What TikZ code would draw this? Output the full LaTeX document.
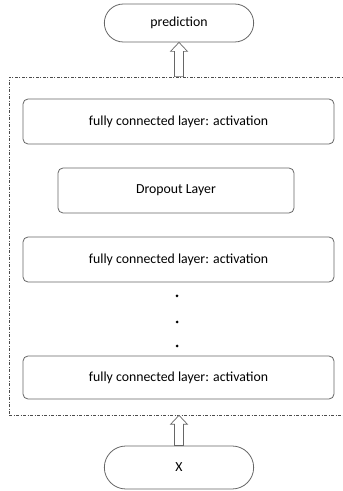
\documentclass[tikz,border=0pt]{standalone}
\usepackage{fontspec}
\setmainfont{Carlito}
\usepackage{tikz}
\usetikzlibrary{shapes}
\usetikzlibrary{calc}
\tikzstyle{layer}=[rectangle, draw=gray!80!black, rounded corners=5pt, minimum width=311pt, minimum height=45pt, text=black]
\tikzstyle{terminal}=[rounded rectangle, draw=gray!80!black, minimum width=156pt, text=black]
\tikzstyle{hollow}=[draw=gray!80!black, fill=white, line width=0.7pt]
\tikzstyle{frame}=[draw=gray!60!black, dash pattern=on 3pt off 1.5pt on 1pt off 1.5pt, line width=0.7pt]
\tikzset{every picture/.style={
    line width=0.8pt
  }
}
\newcommand{\hollowarrow}[2]{%
  \draw[hollow] let \p1=(#1), \p2=(#2) in
    (\x1-4.5pt,\y1) -- (\x1-4.5pt,\y2-9pt) -- (\x1-8.5pt,\y2-9pt) -- (\x1,\y2)
    -- (\x1+8.5pt,\y2-9pt) -- (\x1+4.5pt,\y2-9pt) -- (\x1+4.5pt,\y1) -- cycle;}

\begin{document}
\begin{tikzpicture}[x=1pt, y=1pt, font=\fontsize{13.8}{16}\selectfont]
      \clip (0,0) rectangle (343,491);
      \node[frame, rectangle, minimum width=343pt, minimum height=338pt] at (180.5,245) (hidden) {};
      \node[terminal, minimum height=38pt] at (179,468) (prediction) {prediction};
      \node[layer] at (178.5,369.5) (fcone) {fully connected layer: activation};
      \node[layer, minimum width=236pt] at (176,300.5) (dropout) {Dropout Layer};
      \node[layer] at (178.5,231.5) (fctwo) {fully connected layer: activation};
      \node[layer, minimum height=43pt] at (178.5,113.5) (fcthree) {fully connected layer: activation};
      \node[terminal, minimum height=43pt] at (179,23.5) (input) {X};
      \foreach \y/\name in {195/dotone, 169/dottwo, 145/dotthree}
        \node[circle, fill=black, inner sep=0pt, minimum size=3pt] at (177,\y) (\name) {};
      \hollowarrow{prediction.south |- hidden.north}{prediction.south}
      \hollowarrow{input.north}{input.north |- hidden.south}
    \end{tikzpicture}
\end{document}
